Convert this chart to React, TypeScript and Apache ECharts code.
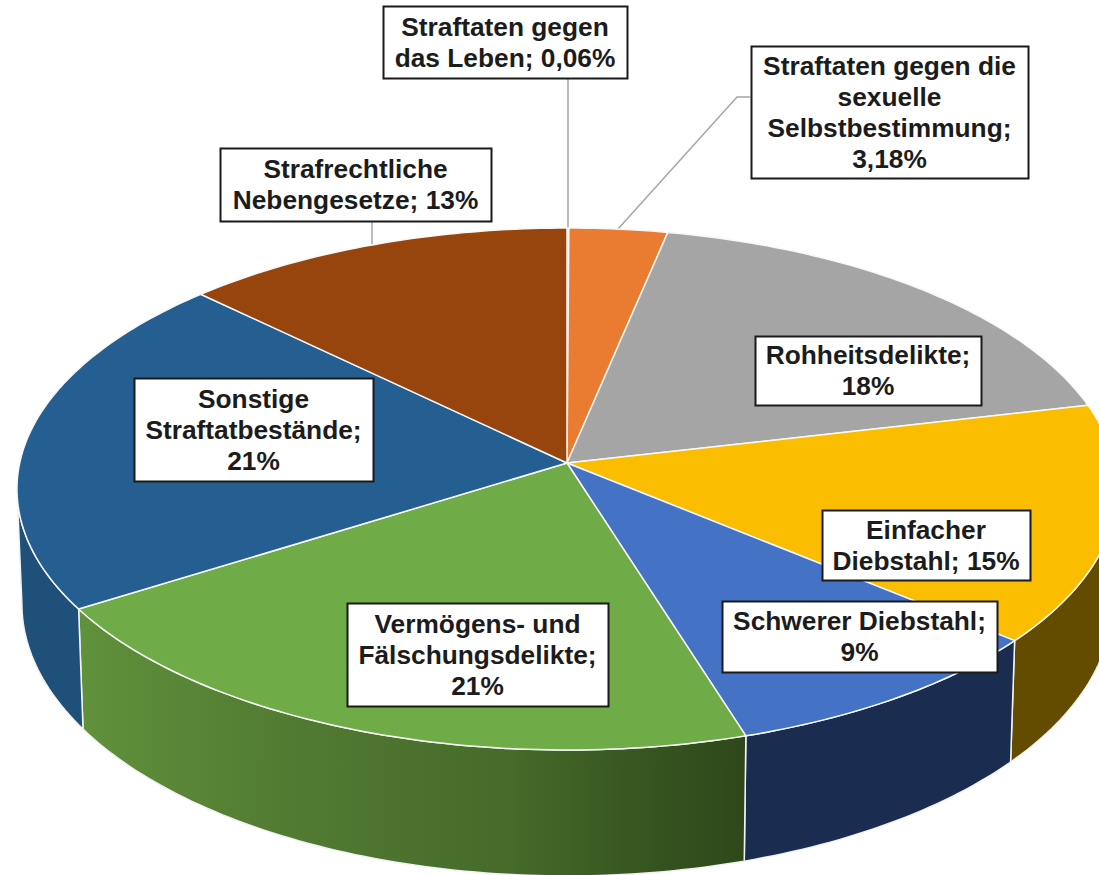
import React, { useEffect, useRef } from "react";
import * as echarts from "echarts";

const categories = [
  "Straftaten gegen das Leben",
  "Straftaten gegen die sexuelle Selbstbestimmung",
  "Rohheitsdelikte",
  "Einfacher Diebstahl",
  "Schwerer Diebstahl",
  "Vermögens- und Fälschungsdelikte",
  "Sonstige Straftatbestände",
  "Strafrechtliche Nebengesetze",
];
// shares; they round to the printed labels
const values = [0.06, 3.18, 18.1, 14.8, 9.1, 20.8, 21.3, 12.7];
const labelTexts = [
  "Straftaten gegen\ndas Leben; 0,06%",
  "Straftaten gegen die\nsexuelle\nSelbstbestimmung;\n3,18%",
  "Rohheitsdelikte;\n18%",
  "Einfacher\nDiebstahl; 15%",
  "Schwerer Diebstahl;\n9%",
  "Vermögens- und\nFälschungsdelikte;\n21%",
  "Sonstige\nStraftatbestände;\n21%",
  "Strafrechtliche\nNebengesetze; 13%",
];
const topColors = ["#5B9BD5", "#E97C30", "#A5A5A5", "#FBBD00", "#4472C4", "#6FAB46", "#255E91", "#98450D"];
const wallColors = ["#5B9BD5", "#E97C30", "#A5A5A5", "#634C00", "#1A2C50", "#6FAB46", "#1E5079", "#98450D"];

// label boxes: x, y, width, height
const labelBoxes = [
  [383, 6, 244, 72],
  [751, 46, 277, 132],
  [755, 336, 226, 69],
  [822, 510, 208, 70],
  [722, 601, 275, 71],
  [347, 603, 261, 103],
  [134, 378, 239, 103],
  [220, 148, 271, 73],
];
const leaders = [
  [[568, 78], [568, 228]],
  [[750, 97], [737, 97], [618, 229]],
  [[372, 221], [372, 246]],
];

// perspective projection of the unit disc
const APEX_X = 567;
const APEX_Y = 463;
const A = 547.3;
const B = 258.4;
const P = 0.0996;
const CY = 489;

function topPoint(theta: number): number[] {
  const u = Math.sin(theta);
  const v = -Math.cos(theta);
  const d = 1 - P * v;
  return [APEX_X + (A * u) / d, APEX_Y + (B * v) / d];
}
function bottomPoint(theta: number): number[] {
  const [x, y] = topPoint(theta);
  return [APEX_X + (x - APEX_X) * 0.991, 604 + (y - CY) * 1.042];
}
function arc(a: number, b: number, f: (t: number) => number[]): number[][] {
  const n = Math.max(2, Math.ceil(((b - a) * 180) / Math.PI));
  const pts: number[][] = [];
  for (let i = 0; i <= n; i++) pts.push(f(a + ((b - a) * i) / n));
  return pts;
}

const total = values.reduce((s, v) => s + v, 0);
function sliceRange(i: number): [number, number] {
  let sum = 0;
  for (let k = 0; k < i; k++) sum += values[k];
  return [(sum / total) * 2 * Math.PI, ((sum + values[i]) / total) * 2 * Math.PI];
}
const FRONT_START = Math.acos(-P);
const FRONT_END = 2 * Math.PI - FRONT_START;

function wallFill(i: number): any {
  if (i === 5) {
    return new echarts.graphic.LinearGradient(0, 0, 1, 0, [
      { offset: 0, color: "#60913B" },
      { offset: 0.3, color: "#527C32" },
      { offset: 0.65, color: "#456A2A" },
      { offset: 0.88, color: "#34521E" },
      { offset: 1, color: "#2F481B" },
    ]);
  }
  return wallColors[i];
}

function renderWall(params: any) {
  const i = params.dataIndex;
  const [s, e] = sliceRange(i);
  const a = Math.max(s, FRONT_START);
  const b = Math.min(e, FRONT_END);
  if (b <= a) return { type: "group", children: [] };
  const points = [...arc(a, b, topPoint), ...arc(a, b, bottomPoint).reverse()];
  return {
    type: "polygon",
    shape: { points },
    style: { fill: wallFill(i), stroke: "#F2F2F2", lineWidth: 1.5, lineJoin: "round" },
  };
}

function renderTop(params: any) {
  const i = params.dataIndex;
  const [s, e] = sliceRange(i);
  const points = [[APEX_X, APEX_Y], ...arc(s, e, topPoint)];
  return {
    type: "polygon",
    shape: { points },
    style: { fill: topColors[i], stroke: "#F7F7F7", lineWidth: 1.5, lineJoin: "round" },
  };
}

export default function App() {
  const ref = useRef<HTMLDivElement>(null);
  useEffect(() => {
    const chart = echarts.init(ref.current!, undefined, { renderer: "svg" });
    const data = categories.map((name, i) => ({ name, value: values[i] }));
    chart.setOption({
      animation: false,
      backgroundColor: "#ffffff",
      series: [
        { type: "custom", coordinateSystem: "none", silent: true, renderItem: renderWall, data, z: 2 },
        { type: "custom", coordinateSystem: "none", silent: true, renderItem: renderTop, data, z: 3 },
      ],
      graphic: [
        ...leaders.map((points) => ({
          type: "polyline",
          z: 1,
          shape: { points },
          style: { stroke: "#A6A6A6", lineWidth: 1.5, fill: "none" },
        })),
        ...labelBoxes.map(([x, y, width, height]) => ({
          type: "rect",
          z: 10,
          shape: { x: x + 0.5, y: y + 0.5, width, height },
          style: { fill: "#ffffff", stroke: "#1a1a1a", lineWidth: 2 },
        })),
        ...labelBoxes.map(([x, y, width, height], i) => ({
          type: "text",
          z: 11,
          x: x + width / 2,
          y: y + height / 2,
          style: {
            text: labelTexts[i],
            fill: "#1c1c1c",
            font: 'bold 26.3px "Liberation Sans", Arial, sans-serif',
            lineHeight: 31,
            align: "center",
            verticalAlign: "middle",
          },
        })),
      ],
    });
    return () => chart.dispose();
  }, []);
  return <div ref={ref} style={{ position: "fixed", left: 0, top: 0, width: 1099, height: 875 }} />;
}
